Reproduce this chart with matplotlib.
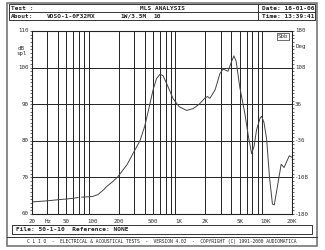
import numpy as np
import matplotlib
matplotlib.use("Agg")
import matplotlib.pyplot as plt
from matplotlib.patches import Rectangle
from matplotlib.lines import Line2D

# ---- data ----
freq = [20, 30, 40, 50, 60, 68, 72, 75, 90, 100, 115, 122, 135, 145, 170, 196,
        250, 300, 352, 400, 458, 500, 547, 600, 650, 720, 850, 1000, 1217, 1450,
        1700, 1980, 2120, 2260, 2600, 2940, 3200, 3650, 4040, 4270, 4530, 5000,
        5730, 6300, 6840, 7300, 7800, 8600, 8920, 9500, 10200, 11000, 11900,
        12500, 13300, 15000, 16200, 17500, 18600, 20000]
spl = [63.3, 63.6, 63.9, 64.1, 64.3, 64.5, np.nan, 64.6, 64.7, 64.8, 65.3, 65.8,
       66.7, 67.5, 68.8, 70.2, 73.5, 77.0, 80.0, 84.0, 90.0, 94.0, 97.0, 98.2,
       97.8, 95.5, 91.5, 89.3, 88.3, 88.8, 90.0, 91.7, 92.1, 91.6, 94.0, 98.3,
       99.6, 99.0, 101.8, 103.2, 101.8, 94.6, 87.3, 81.0, 76.5, 78.5, 83.0, 86.3,
       86.7, 85.0, 80.4, 70.0, 62.7, 62.5, 66.3, 73.6, 72.7, 74.5, 75.9, 75.5]

x_ticks = [20, 50, 100, 200, 500, 1000, 2000, 5000, 10000, 20000]
x_labels = ["20", "50", "100", "200", "500", "1K", "2K", "5K", "10K", "20K"]
y_ticks = [60, 70, 80, 90, 100, 110]
y_labels = ["60", "70", "80", "90", "100", "110"]
phase_labels = ["-180", "-108", "-36", "36", "108", "180"]

header_title = "MLS ANALYSIS"
about_fields = ["VDSO-1-0F32MX", "1W/3.5M", "10"]
date_text = "Date: 16-01-06"
time_text = "Time: 13:39:41"
file_text = "File: 50-1-10  Reference: NONE"
footer_text = "C L I O  -  ELECTRICAL & ACOUSTICAL TESTS  -  VERSION 4.02  -  COPYRIGHT (C) 1991-2000 AUDIOMATICA"

W, H = 325, 250
fig = plt.figure(figsize=(W / 100, H / 100), dpi=100)
fig.patch.set_facecolor("white")

def fx(x):
    return x / W

def fy(y):
    return 1 - y / H

mono = "DejaVu Sans Mono"
dark = "#333333"

# axes
L, R, T, B = 32, 292, 31, 214
ax = fig.add_axes([fx(L), fy(B), fx(R) - fx(L), fy(T) - fy(B)])
ax.set_xscale("log")
ax.set_xlim(20, 20000)
ax.set_ylim(60, 110)
ax.plot(freq, spl, color="#444444", lw=0.7)

grid_minor = []
for dec in [10, 100, 1000, 10000]:
    for m in range(2, 10):
        v = m * dec
        if 20 < v < 20000:
            grid_minor.append(v)
for v in grid_minor:
    ax.axvline(v, color="#222222", lw=0.7, zorder=0)
for v in y_ticks[1:-1]:
    ax.axhline(v, color="#222222", lw=0.7, zorder=0)

ax.set_xticks(x_ticks)
ax.set_xticklabels([])
ax.xaxis.set_minor_locator(matplotlib.ticker.NullLocator())
ax.set_yticks(y_ticks)
ax.set_yticklabels([])
ax.set_yticks(np.arange(60, 111, 1), minor=True)
ax.tick_params(axis="y", which="both", left=True, right=True, direction="out",
               length=1.5, width=0.5, colors=dark)
ax.tick_params(axis="x", which="both", length=0)
for s in ax.spines.values():
    s.set_color("#222222")
    s.set_linewidth(0.8)

fs = 4.2
for v, lab in zip(x_ticks, x_labels):
    ax.text(v, -0.03, lab, transform=ax.get_xaxis_transform(), ha="center",
            va="top", fontsize=fs, family=mono, color=dark)
ax.text(31, -0.03, "Hz", transform=ax.get_xaxis_transform(), ha="center",
        va="top", fontsize=fs, family=mono, color=dark)
for v, lab in zip(y_ticks, y_labels):
    ax.text(-0.012, v, lab, transform=ax.get_yaxis_transform(), ha="right",
            va="center", fontsize=fs, family=mono, color=dark)
for i, lab in enumerate(phase_labels):
    ax.text(1.012, i / 5, lab, transform=ax.transAxes, ha="left",
            va="center", fontsize=fs, family=mono, color=dark)
ax.text(-0.04, 0.92, "dB\nspl", transform=ax.transAxes, ha="center", va="top",
        fontsize=fs, family=mono, color=dark, linespacing=1.0)
ax.text(1.035, 0.93, "Deg", transform=ax.transAxes, ha="center", va="top",
        fontsize=fs, family=mono, color=dark)
ax.text(0.985, 0.985, "Sbb", transform=ax.transAxes, ha="right", va="top",
        fontsize=fs, family=mono, color=dark,
        bbox=dict(boxstyle="square,pad=0.15", fc="white", ec=dark, lw=0.5))

# frame
def rect(x0, y0, x1, y1, lw=0.7, ec="#333333"):
    fig.patches.append(Rectangle((fx(x0), fy(y1)), fx(x1) - fx(x0), fy(y0) - fy(y1),
                                 transform=fig.transFigure, fill=False, ec=ec, lw=lw))

def hline(x0, x1, y, lw=0.7):
    fig.lines.append(Line2D([fx(x0), fx(x1)], [fy(y), fy(y)], transform=fig.transFigure,
                            color="#333333", lw=lw))

def vline(x, y0, y1, lw=0.7):
    fig.lines.append(Line2D([fx(x), fx(x)], [fy(y0), fy(y1)], transform=fig.transFigure,
                            color="#333333", lw=lw))

rect(7, 3, 317, 246, lw=1.2, ec="#777777")
rect(9, 4, 315, 20)
hline(9, 315, 12)
vline(258, 4, 20)
rect(12, 225, 312, 234)
hline(7, 317, 237)

hfs = 4.4
fig.text(fx(11), fy(8), "Test :", fontsize=hfs, family=mono, weight="bold", va="center", color="#222222")
fig.text(fx(163), fy(8), header_title, fontsize=hfs, family=mono, weight="bold", va="center", ha="center", color="#222222")
fig.text(fx(11), fy(16), "About:", fontsize=hfs, family=mono, weight="bold", va="center", color="#222222")
fig.text(fx(47), fy(16), about_fields[0], fontsize=hfs, family=mono, weight="bold", va="center", color="#222222")
fig.text(fx(120), fy(16), about_fields[1], fontsize=hfs, family=mono, weight="bold", va="center", color="#222222")
fig.text(fx(153), fy(16), about_fields[2], fontsize=hfs, family=mono, weight="bold", va="center", color="#222222")
fig.text(fx(262), fy(8), date_text, fontsize=hfs, family=mono, weight="bold", va="center", color="#222222")
fig.text(fx(262), fy(16), time_text, fontsize=hfs, family=mono, weight="bold", va="center", color="#222222")
fig.text(fx(16), fy(229.5), file_text, fontsize=hfs, family=mono, weight="bold", va="center", color="#222222")
fig.text(fx(162), fy(241.5), footer_text, fontsize=3.3, family=mono, va="center", ha="center", color="#222222")

fig.savefig("out.png", dpi=100, facecolor="white")
